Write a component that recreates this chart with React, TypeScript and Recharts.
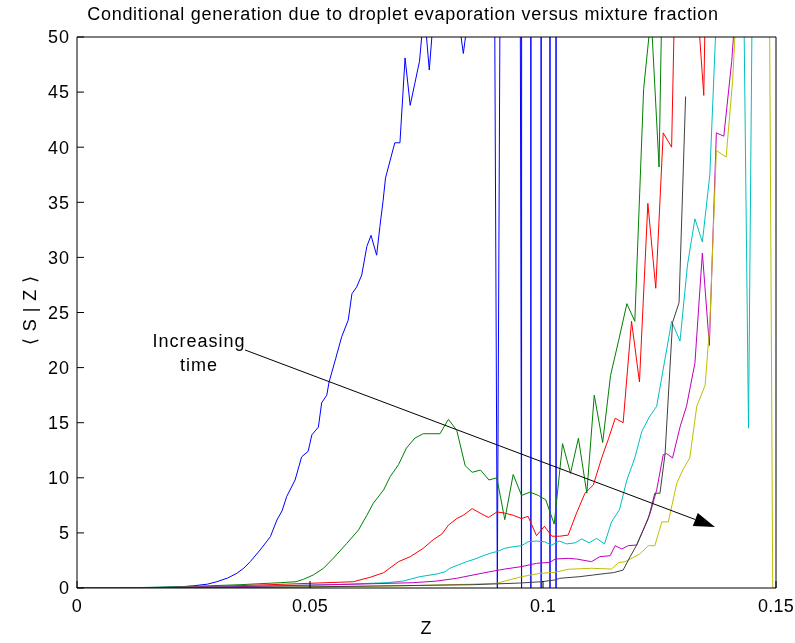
import React from "react";
import {
  LineChart,
  Line,
  XAxis,
  YAxis,
  ReferenceLine,
} from "recharts";

// mixture fraction (Z) and conditional source <S|Z>
const blueZ = [0, 0.01, 0.018, 0.022, 0.025, 0.028, 0.03, 0.0323, 0.0343, 0.0358, 0.0372, 0.0393, 0.0415, 0.0429, 0.044, 0.045, 0.0468, 0.0482, 0.0496, 0.0504, 0.0518, 0.0525, 0.0536, 0.0541, 0.0555, 0.0568, 0.0582, 0.059, 0.06, 0.0611, 0.0622, 0.0631, 0.0643, 0.065, 0.0657, 0.0662, 0.0682, 0.0693, 0.0704, 0.0715, 0.0725, 0.0735, 0.0745, 0.0756, 0.0767, 0.079, 0.0805, 0.0818, 0.0829, 0.084, 0.0865, 0.0889, 0.0902, 0.0915, 0.093, 0.0941, 0.0954, 0.0964, 0.0974, 0.0985, 0.0996, 0.1005, 0.1015, 0.1022, 0.1028, 0.1036];
const blueS = [0, 0, 0.05, 0.1, 0.2, 0.35, 0.57, 0.9, 1.33, 1.8, 2.4, 3.45, 4.66, 6.17, 7.0, 8.3, 9.8, 11.9, 12.4, 13.9, 14.6, 16.8, 17.5, 18.7, 20.8, 22.8, 24.3, 26.7, 27.3, 28.4, 31.0, 32.0, 30.2, 32.8, 35.2, 37.2, 40.4, 40.4, 48.1, 43.8, 45.8, 47.8, 52.5, 47.0, 53, 75, 70, 52, 48.5, 52, 90, 120, 0, 120, 400, 250, 0, 5000, 0, 5000, 0, 5000, 0, 5000, 0, 5000];

const greenZ = [0, 0.015, 0.025, 0.035, 0.0436, 0.047, 0.0486, 0.0507, 0.0529, 0.055, 0.0579, 0.0604, 0.0622, 0.0636, 0.0658, 0.0672, 0.069, 0.0707, 0.0725, 0.0743, 0.0779, 0.0797, 0.0815, 0.0833, 0.0848, 0.0866, 0.0884, 0.0901, 0.0918, 0.0936, 0.0954, 0.0972, 0.099, 0.1006, 0.1024, 0.1042, 0.1059, 0.1076, 0.1094, 0.111, 0.1128, 0.1145, 0.1162, 0.118, 0.1197, 0.1216, 0.1232, 0.1249, 0.1266, 0.13, 0.135];
const greenS = [0, 0.05, 0.15, 0.3, 0.48, 0.57, 0.79, 1.18, 1.79, 2.7, 4.05, 5.26, 6.6, 7.7, 8.9, 10.1, 11.2, 12.7, 13.6, 14.0, 14.0, 15.3, 14.3, 11.1, 10.5, 10.7, 9.8, 10.0, 6.2, 10.3, 8.4, 8.7, 8.4, 8.0, 5.8, 13.1, 10.4, 13.6, 8.6, 17.5, 13.2, 19.3, 22.4, 25.8, 24.2, 45.3, 52, 38.2, 80, 120, 150];

const redZ = [0, 0.02, 0.03, 0.045, 0.0593, 0.0629, 0.0658, 0.069, 0.0715, 0.0743, 0.0765, 0.0783, 0.0797, 0.0815, 0.0829, 0.0848, 0.0865, 0.0883, 0.0901, 0.0918, 0.0936, 0.0954, 0.0968, 0.0986, 0.1003, 0.1019, 0.1036, 0.1054, 0.1072, 0.109, 0.1108, 0.1126, 0.1141, 0.1155, 0.1172, 0.119, 0.1207, 0.1225, 0.1242, 0.1258, 0.1276, 0.1293, 0.131, 0.1328, 0.1345, 0.1362, 0.14];
const redS = [0, 0.05, 0.15, 0.35, 0.57, 0.97, 1.39, 2.39, 2.84, 3.6, 4.4, 4.9, 5.7, 6.3, 6.6, 7.2, 6.8, 6.4, 6.9, 6.8, 6.6, 6.3, 6.5, 4.75, 5.6, 4.7, 4.7, 4.8, 6.8, 8.6, 9.35, 11.8, 13.6, 15.4, 15.0, 24.2, 18.7, 34.9, 27.2, 41.3, 40.0, 75, 80, 55, 44.7, 87, 120];

const cyanZ = [0, 0.03, 0.055, 0.0665, 0.07, 0.0736, 0.0772, 0.079, 0.08, 0.0818, 0.0836, 0.0854, 0.0872, 0.089, 0.0901, 0.0918, 0.0936, 0.0954, 0.0968, 0.0986, 0.1003, 0.1019, 0.1035, 0.1051, 0.1069, 0.1083, 0.1099, 0.1115, 0.1132, 0.1147, 0.1164, 0.118, 0.1197, 0.1212, 0.1228, 0.1244, 0.1276, 0.1294, 0.131, 0.1326, 0.1342, 0.1358, 0.1375, 0.14, 0.1424, 0.1441, 0.1458, 0.148];
const cyanS = [0, 0.1, 0.3, 0.48, 0.63, 1.03, 1.27, 1.48, 1.79, 2.09, 2.39, 2.63, 2.93, 3.2, 3.3, 3.6, 3.75, 3.84, 4.2, 4.26, 4.2, 3.9, 4.26, 4.0, 4.1, 4.45, 4.1, 4.5, 4.0, 6.0, 7.1, 9.8, 11.8, 14.2, 15.5, 16.5, 24.2, 22.4, 29.3, 33.5, 31.4, 37.5, 55, 70, 80, 14.5, 98, 120];

const magentaZ = [0, 0.03, 0.06, 0.072, 0.077, 0.0815, 0.085, 0.0886, 0.0918, 0.0954, 0.0986, 0.1015, 0.1026, 0.1054, 0.1072, 0.1104, 0.1122, 0.1144, 0.1155, 0.1169, 0.1183, 0.1201, 0.1215, 0.123, 0.1244, 0.1258, 0.1265, 0.1278, 0.1294, 0.1308, 0.1326, 0.1342, 0.1357, 0.1372, 0.1388, 0.1405, 0.1422, 0.145];
const magentaS = [0, 0.08, 0.35, 0.48, 0.62, 0.88, 1.18, 1.48, 1.72, 1.94, 2.24, 2.33, 2.63, 2.69, 2.63, 2.39, 2.84, 2.93, 3.84, 3.54, 3.84, 3.9, 5.26, 6.8, 8.9, 12.1, 12.2, 11.8, 14.6, 16.5, 20.4, 30.4, 22.0, 41.3, 41.0, 47.8, 58, 90];

const yellowZ = [0, 0.04, 0.07, 0.085, 0.0901, 0.0954, 0.0994, 0.1026, 0.1054, 0.1104, 0.1147, 0.1162, 0.1176, 0.1194, 0.1208, 0.1226, 0.124, 0.1255, 0.1269, 0.1287, 0.1301, 0.1315, 0.133, 0.1348, 0.1358, 0.1372, 0.1393, 0.1407, 0.1424, 0.145, 0.1476, 0.1493, 0.15];
const yellowS = [0, 0.05, 0.2, 0.35, 0.43, 1.03, 1.33, 1.42, 1.7, 1.79, 1.72, 2.3, 2.39, 2.78, 3.1, 3.84, 3.84, 6.0, 6.0, 9.5, 10.8, 11.8, 16.5, 18.4, 24.0, 39.7, 39.1, 46.1, 60, 100, 130, 0, 0];

const blackZ = [0, 0.05, 0.085, 0.095, 0.0997, 0.1025, 0.1036, 0.1079, 0.1108, 0.1137, 0.1151, 0.1172, 0.1187, 0.1201, 0.1215, 0.1226, 0.124, 0.1251, 0.1262, 0.1278, 0.1292, 0.1306];
const blackS = [0, 0.1, 0.3, 0.45, 0.57, 0.73, 0.88, 1.03, 1.18, 1.33, 1.39, 1.63, 2.84, 3.9, 5.26, 6.3, 8.6, 8.6, 12.2, 24.1, 25.9, 44.6];

const xTicks = [0, 0.05, 0.1, 0.15];
const yTicks = [0, 5, 10, 15, 20, 25, 30, 35, 40, 45, 50];

// annotation arrow, in data units
const arrowFrom = { x: 0.03605, y: 21.6 };
const arrowTo = { x: 0.1369, y: 5.54 };

const pts = (zs: number[], ss: number[]) => zs.map((z, i) => ({ z, s: ss[i] }));

const series = [
  { name: "t1", color: "#0000FF", data: pts(blueZ, blueS) },
  { name: "t2", color: "#008000", data: pts(greenZ, greenS) },
  { name: "t3", color: "#FF0000", data: pts(redZ, redS) },
  { name: "t4", color: "#00BFBF", data: pts(cyanZ, cyanS) },
  { name: "t5", color: "#BF00BF", data: pts(magentaZ, magentaS) },
  { name: "t6", color: "#BFBF00", data: pts(yellowZ, yellowS) },
  { name: "t7", color: "#404040", data: pts(blackZ, blackS) },
];

const font = "Arial, 'Liberation Sans', Helvetica, sans-serif";

const Arrow = (props: any) => {
  const { x1, y1, x2, y2 } = props;
  const ang = Math.atan2(y2 - y1, x2 - x1);
  const len = 21;
  const half = 7;
  const bx = x2 - len * Math.cos(ang);
  const by = y2 - len * Math.sin(ang);
  const px = -Math.sin(ang) * half;
  const py = Math.cos(ang) * half;
  return (
    <g>
      <line x1={x1} y1={y1} x2={bx} y2={by} stroke="#000" strokeWidth={1} />
      <polygon points={`${x2},${y2} ${bx + px},${by + py} ${bx - px},${by - py}`} fill="#000" />
      <text x={x1 - 46} y={y1 - 3} textAnchor="middle" fontSize={18} letterSpacing={1} fontFamily={font} fill="#000">
        Increasing
      </text>
      <text x={x1 - 46} y={y1 + 21} textAnchor="middle" fontSize={18} letterSpacing={1} fontFamily={font} fill="#000">
        time
      </text>
    </g>
  );
};

const yTickStyle = { fill: "#000", fontSize: 18, fontFamily: font, letterSpacing: 1 };
const xTickStyle = { fill: "#000", fontSize: 18, fontFamily: font, letterSpacing: 0.3 };

export default function App() {
  return (
    <div style={{ position: "fixed", left: 8, top: 8, width: 787, height: 627, background: "#fff" }}>
      <style>{`.recharts-surface { overflow: visible; }`}</style>
      <div
        style={{
          position: "absolute",
          left: 0,
          width: 790,
          top: -4,
          lineHeight: "20px",
          textAlign: "center",
          fontFamily: font,
          fontSize: 18,
          letterSpacing: 0.7,
          color: "#000",
          whiteSpace: "nowrap",
        }}
      >
        Conditional generation due to droplet evaporation versus mixture fraction
      </div>
      <div
        style={{
          position: "absolute",
          left: 22 - 50,
          top: 302 - 11,
          width: 100,
          height: 22,
          lineHeight: "22px",
          textAlign: "center",
          transform: "rotate(-90deg)",
          fontFamily: font,
          fontSize: 18,
          letterSpacing: 1,
          color: "#000",
          whiteSpace: "nowrap",
        }}
      >
        {"\u27E8 S | Z \u27E9"}
      </div>
      <div
        style={{
          position: "absolute",
          left: 418 - 20,
          top: 620 - 11,
          width: 40,
          lineHeight: "22px",
          textAlign: "center",
          fontFamily: font,
          fontSize: 18,
          color: "#000",
        }}
      >
        Z
      </div>
      <LineChart
        width={787}
        height={627}
        margin={{ top: 28, right: 18, bottom: 7, left: 19 }}
      >
        {series.map((s) => (
          <Line
            key={s.name}
            data={s.data}
            dataKey="s"
            type="linear"
            stroke={s.color}
            strokeWidth={1}
            dot={false}
            activeDot={false}
            isAnimationActive={false}
          />
        ))}
        <ReferenceLine segment={[arrowFrom, arrowTo]} ifOverflow="visible" shape={Arrow} />
        <XAxis
          dataKey="z"
          type="number"
          domain={[0, 0.15]}
          ticks={xTicks}
          allowDataOverflow
          height={40}
          tickSize={-7}
          tickMargin={18}
          tick={xTickStyle}
          axisLine={{ stroke: "#000" }}
          tickLine={{ stroke: "#000" }}
          interval={0}
        />
        <XAxis
          xAxisId="top"
          orientation="top"
          dataKey="z"
          type="number"
          domain={[0, 0.15]}
          ticks={xTicks}
          allowDataOverflow
          height={1}
          tickSize={-7}
          tick={false}
          axisLine={{ stroke: "#000" }}
          tickLine={{ stroke: "#000" }}
        />
        <YAxis
          type="number"
          domain={[0, 50]}
          ticks={yTicks}
          allowDataOverflow
          width={50}
          tickSize={-7}
          tickMargin={14}
          tick={yTickStyle}
          axisLine={{ stroke: "#000" }}
          tickLine={{ stroke: "#000" }}
          interval={0}
        />
        <YAxis
          yAxisId="right"
          orientation="right"
          type="number"
          domain={[0, 50]}
          ticks={yTicks}
          allowDataOverflow
          width={1}
          tickSize={-7}
          tick={false}
          axisLine={{ stroke: "#000" }}
          tickLine={{ stroke: "#000" }}
        />
      </LineChart>
    </div>
  );
}
